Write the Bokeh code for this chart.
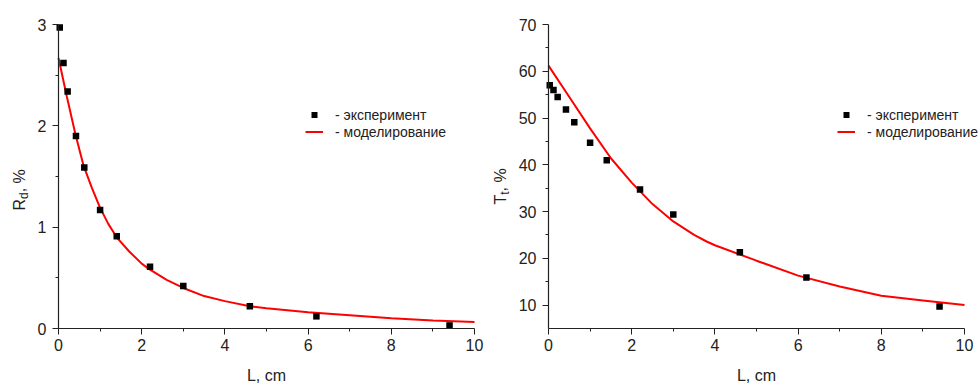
import math

from bokeh.plotting import figure
from bokeh.layouts import row
from bokeh.models import Range1d, Legend, LegendItem, Label, FixedTicker
from bokeh.embed import file_html
from bokeh.resources import INLINE

# ---- measured data -------------------------------------------------------
# distance L, cm
L_exp = [0.03, 0.12, 0.22, 0.42, 0.62, 1.0, 1.4, 2.2, 3.0, 4.6, 6.2, 9.4]
# diffuse reflectance R_d, %
Rd_exp = [2.97, 2.62, 2.34, 1.90, 1.59, 1.17, 0.91, 0.61, 0.42, 0.22, 0.12, 0.03]
# total transmittance T_t, %
Tt_exp = [57.0, 56.0, 54.5, 51.8, 49.1, 44.7, 41.0, 34.7, 29.4, 21.3, 15.9, 9.7]

# ---- simulation results ----------------------------------------------------
L_rd_model = [0.0, 0.1, 0.2, 0.3, 0.4, 0.5, 0.6, 0.8, 1.0, 1.2, 1.4, 1.7, 2.0,
              2.2, 2.6, 3.0, 3.5, 4.0, 4.6, 5.0, 6.0, 7.0, 8.0, 9.0, 10.0]
Rd_model = [2.67, 2.48, 2.29, 2.11, 1.93, 1.77, 1.61, 1.39, 1.19, 1.03, 0.90,
            0.76, 0.64, 0.58, 0.48, 0.40, 0.32, 0.27, 0.22, 0.20, 0.16, 0.13,
            0.10, 0.08, 0.065]

L_tt_model = [0.0, 0.5, 1.0, 1.5, 2.0, 2.5, 3.0, 3.5, 3.8, 4.0, 5.0, 6.0, 7.0,
              8.0, 9.0, 10.0]
Tt_model = [61.2, 54.5, 47.8, 41.4, 36.2, 31.6, 27.9, 25.0, 23.6, 22.8, 19.5,
            16.3, 14.0, 12.0, 11.0, 10.0]

# ---- axes ----------------------------------------------------------------------
x_lim = (0, 10)
rd_lim = (0, 3)
tt_lim = (5, 70)
x_ticks = [0, 2, 4, 6, 8, 10]
x_minor = [1, 3, 5, 7, 9]
rd_ticks = [0, 1, 2, 3]
rd_minor = [0.5, 1.5, 2.5]
tt_ticks = [10, 20, 30, 40, 50, 60, 70]
tt_minor = [15, 25, 35, 45, 55, 65]

legend_labels = ["- эксперимент", "- моделирование"]
x_title = "L, cm"

FONT = "Liberation Sans"
INK = "#222222"
# size of the data area of each panel and the margins around it (px)
AREA_W, AREA_H = 416, 304
TOP, BOTTOM = 24, 55

# advance widths (em) of Liberation Sans glyphs used in the axis titles
ADV = {"R": 0.722, "T": 0.611, "d": 0.556, "t": 0.278}


def make_panel(y_lim, y_ticks, y_minor, y_exp, L_model, y_model,
               pad_left, pad_right, main, sub, title_cx, title_sy, legend_x):
    width = pad_left + AREA_W + pad_right
    height = TOP + AREA_H + BOTTOM
    kx = AREA_W / (x_lim[1] - x_lim[0])          # px per cm
    ky = AREA_H / (y_lim[1] - y_lim[0])          # px per %
    x_range = Range1d(x_lim[0] - pad_left / kx, x_lim[1] + pad_right / kx)
    y_range = Range1d(y_lim[0] - BOTTOM / ky, y_lim[1] + TOP / ky)

    p = figure(width=width, height=height, x_range=x_range, y_range=y_range,
               output_backend="svg", toolbar_location=None,
               min_border=0, min_border_left=0, min_border_right=0,
               min_border_top=0, min_border_bottom=0)
    p.outline_line_color = None
    p.grid.visible = False
    p.background_fill_color = "white"
    p.border_fill_color = "white"

    # axes pinned to the data origin, drawn only over the data limits
    p.xaxis.fixed_location = y_lim[0]
    p.yaxis.fixed_location = x_lim[0]
    p.xaxis.bounds = x_lim
    p.yaxis.bounds = y_lim
    p.xaxis.ticker = FixedTicker(ticks=x_ticks, minor_ticks=x_minor)
    p.yaxis.ticker = FixedTicker(ticks=y_ticks, minor_ticks=y_minor)
    for ax in (p.xaxis[0], p.yaxis[0]):
        ax.axis_line_color = INK
        ax.axis_line_width = 1.2
        ax.major_tick_line_color = INK
        ax.minor_tick_line_color = INK
        ax.major_tick_out = 6
        ax.major_tick_in = 0
        ax.minor_tick_out = 3
        ax.minor_tick_in = 0
        ax.major_label_text_font = FONT
        ax.major_label_text_font_size = "16px"
        ax.major_label_text_color = INK
    p.xaxis.major_label_standoff = 4
    p.yaxis.major_label_standoff = 6

    r_mod = p.line(L_model, y_model, line_color="#ff0000", line_width=2)
    r_exp = p.scatter(L_exp, y_exp, marker="square", size=6.5,
                      fill_color="black", line_color=None)

    legend = Legend(
        items=[LegendItem(label=legend_labels[0], renderers=[r_exp]),
               LegendItem(label=legend_labels[1], renderers=[r_mod])],
        location=(legend_x, BOTTOM + 188), padding=0, margin=0, spacing=0,
        glyph_width=18, glyph_height=15, label_height=17, label_standoff=12,
        border_line_color=None, background_fill_alpha=0,
        label_text_font=FONT, label_text_font_size="14px",
        label_text_color=INK)
    p.add_layout(legend)

    # pixel position inside this figure -> data coordinates
    def to_x(sx):
        return x_range.start + sx / kx

    def to_y(sy):
        return y_range.end - sy / ky

    # x-axis title
    p.add_layout(Label(x=(x_lim[0] + x_lim[1]) / 2, y=to_y(374.7), text=x_title,
                       text_align="center", text_baseline="middle",
                       text_font=FONT, text_font_size="16px", text_color=INK))

    # rotated y-axis title with a subscript
    big, small = 16, 12
    sy = title_sy
    p.add_layout(Label(x=to_x(title_cx), y=to_y(sy), text=main,
                       angle=math.pi / 2, text_align="left",
                       text_baseline="middle", text_font=FONT,
                       text_font_size=f"{big}px", text_color=INK))
    sy -= ADV[main] * big
    p.add_layout(Label(x=to_x(title_cx + 4.9), y=to_y(sy), text=sub,
                       angle=math.pi / 2, text_align="left",
                       text_baseline="middle", text_font=FONT,
                       text_font_size=f"{small}px", text_color=INK))
    sy -= ADV[sub] * small
    p.add_layout(Label(x=to_x(title_cx), y=to_y(sy), text=", %",
                       angle=math.pi / 2, text_align="left",
                       text_baseline="middle", text_font=FONT,
                       text_font_size=f"{big}px", text_color=INK))
    return p


left = make_panel(rd_lim, rd_ticks, rd_minor, Rd_exp, L_rd_model, Rd_model,
                  pad_left=58, pad_right=15, main="R", sub="d",
                  title_cx=18.5, title_sy=210, legend_x=305)
right = make_panel(tt_lim, tt_ticks, tt_minor, Tt_exp, L_tt_model, Tt_model,
                   pad_left=59, pad_right=14, main="T", sub="t",
                   title_cx=11, title_sy=204, legend_x=348)

layout = row(left, right)

with open("out.html", "w") as f:
    f.write(file_html(layout, INLINE))
